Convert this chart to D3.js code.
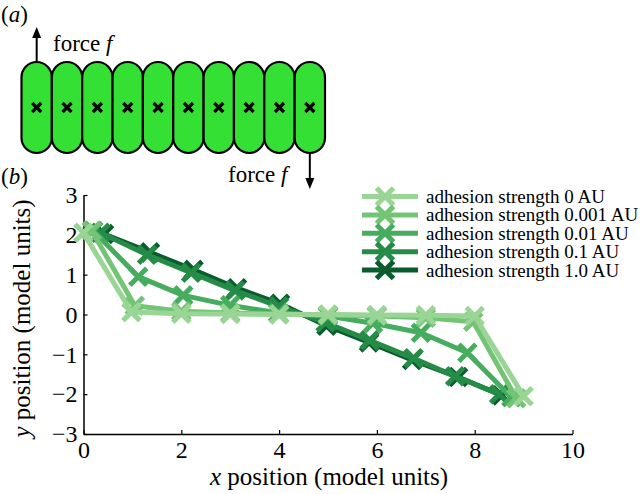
<!DOCTYPE html>
<html>
<head>
<meta charset="utf-8">
<script src="https://cdn.jsdelivr.net/npm/d3@7"></script>
<style>
  html, body { margin: 0; padding: 0; background: #fff; }
  svg { display: block; }
  text { font-family: "Liberation Serif", "Times New Roman", serif; fill: #000; }
</style>
</head>
<body>
<svg id="chart" width="644" height="494"></svg>
<script>
// ---------------- data ----------------
const seriesLabels = [
  "adhesion strength 0 AU",
  "adhesion strength 0.001 AU",
  "adhesion strength 0.01 AU",
  "adhesion strength 0.1 AU",
  "adhesion strength 1.0 AU"
];
const seriesColors = ["#99d594", "#74c476", "#46ad5f", "#248c46", "#0a5c2e"];

const xSeries0 = [0.0, 0.98, 2.0, 3.0, 4.0, 5.0, 6.0, 7.0, 8.0, 9.0];
const ySeries0 = [2.05, 0.06, 0.02, 0.01, 0.0, 0.0, -0.01, -0.02, -0.04, -2.05];
const xSeries1 = [0.17, 1.05, 2.0, 3.0, 4.0, 5.0, 6.0, 7.0, 7.97, 8.85];
const ySeries1 = [2.1, 0.22, 0.08, 0.04, 0.01, -0.01, -0.04, -0.08, -0.18, -2.1];
const xSeries2 = [0.2, 1.12, 2.04, 3.0, 3.98, 5.0, 5.92, 6.9, 7.85, 8.75];
const ySeries2 = [2.1, 0.95, 0.48, 0.23, 0.04, -0.04, -0.22, -0.46, -0.96, -2.08];
const xSeries3 = [0.35, 1.3, 2.2, 3.1, 4.0, 4.95, 5.85, 6.75, 7.6, 8.5];
const ySeries3 = [2.05, 1.5, 1.05, 0.6, 0.2, -0.2, -0.65, -1.1, -1.55, -2.0];
const xSeries4 = [0.42, 1.36, 2.25, 3.14, 4.02, 4.97, 5.84, 6.72, 7.66, 8.55];
const ySeries4 = [2.02, 1.56, 1.12, 0.66, 0.27, -0.28, -0.7, -1.14, -1.57, -2.03];

const xSeriesAll = [xSeries0, xSeries1, xSeries2, xSeries3, xSeries4];
const ySeriesAll = [ySeries0, ySeries1, ySeries2, ySeries3, ySeries4];

const xTicks = [0, 2, 4, 6, 8, 10];
const yTicks = [-3, -2, -1, 0, 1, 2, 3];
const cellCount = 10;

// ---------------- layout ----------------
const svg = d3.select("#chart");
const plot = { left: 83.5, right: 572.5, top: 195, bottom: 434 };
const x = d3.scaleLinear().domain([0, 10]).range([plot.left, plot.right]);
const y = d3.scaleLinear().domain([-3, 3]).range([plot.bottom, plot.top]);

// ---------------- panel (a) ----------------
const cellScale = d3.scaleBand().domain(d3.range(cellCount)).range([21.5, 325]).padding(0);
const cellTop = 62, cellBottom = 153;
const cells = svg.append("g");
cells.selectAll("rect").data(d3.range(cellCount)).join("rect")
  .attr("x", d => cellScale(d))
  .attr("y", cellTop)
  .attr("width", cellScale.bandwidth())
  .attr("height", cellBottom - cellTop)
  .attr("rx", cellScale.bandwidth() / 2)
  .attr("ry", cellScale.bandwidth() / 2)
  .attr("fill", "#35e035")
  .attr("stroke", "#000")
  .attr("stroke-width", 2.2);
const cy = (cellTop + cellBottom) / 2;
cells.selectAll("path.cx").data(d3.range(cellCount)).join("path")
  .attr("class", "cx")
  .attr("d", d => {
    const cx = cellScale(d) + cellScale.bandwidth() / 2, s = 4.5;
    return `M${cx - s},${cy - s}L${cx + s},${cy + s}M${cx - s},${cy + s}L${cx + s},${cy - s}`;
  })
  .attr("stroke", "#000").attr("stroke-width", 3.2).attr("fill", "none");

// arrows
function arrow(x0, yFrom, yTo) {
  const dir = yTo < yFrom ? -1 : 1;
  svg.append("line").attr("x1", x0).attr("x2", x0).attr("y1", yFrom).attr("y2", yTo - dir * 8)
    .attr("stroke", "#000").attr("stroke-width", 2);
  svg.append("path")
    .attr("d", `M${x0},${yTo}L${x0 - 4.5},${yTo - dir * 11}L${x0 + 4.5},${yTo - dir * 11}Z`)
    .attr("fill", "#000");
}
const firstCx = cellScale(0) + cellScale.bandwidth() / 2;
const lastCx = cellScale(cellCount - 1) + cellScale.bandwidth() / 2;
arrow(firstCx, cellTop, 27);
arrow(lastCx, cellBottom, 189);

function forceLabel(xp, yp) {
  const t = svg.append("text").attr("x", xp).attr("y", yp).attr("font-size", 23);
  t.append("tspan").text("force ");
  t.append("tspan").attr("font-style", "italic").text("f");
}
forceLabel(53, 51);
forceLabel(228, 182);

function panelLabel(xp, yp, letter) {
  const t = svg.append("text").attr("x", xp).attr("y", yp).attr("font-size", 23);
  t.append("tspan").text("(");
  t.append("tspan").attr("font-style", "italic").text(letter);
  t.append("tspan").text(")");
}
panelLabel(1, 22, "a");
panelLabel(1, 184, "b");

// ---------------- panel (b) axes ----------------
const xAxis = d3.axisBottom(x).tickValues(xTicks).tickFormat(d3.format("d"))
  .tickSizeInner(-4).tickSizeOuter(0).tickPadding(7);
const yAxis = d3.axisLeft(y).tickValues(yTicks).tickFormat(d3.format("d"))
  .tickSizeInner(-4).tickSizeOuter(0).tickPadding(6);

const gx = svg.append("g").attr("transform", `translate(0,${plot.bottom})`).call(xAxis);
const gy = svg.append("g").attr("transform", `translate(${plot.left},0)`).call(yAxis);
[gx, gy].forEach(g => {
  g.selectAll("path.domain").attr("stroke", "#000").attr("stroke-width", 1.5);
  g.selectAll(".tick line").attr("stroke", "#000").attr("stroke-width", 1.2);
  g.selectAll(".tick text").attr("font-family", "Liberation Serif, Times New Roman, serif")
    .attr("font-size", 24).attr("fill", "#000");
});

// axis titles
const xt = svg.append("text").attr("x", (plot.left + plot.right) / 2 + 1).attr("y", 485)
  .attr("text-anchor", "middle").attr("font-size", 25);
xt.append("tspan").attr("font-style", "italic").text("x");
xt.append("tspan").text(" position (model units)");

const yt = svg.append("text").attr("transform", `translate(30,${(plot.top + plot.bottom) / 2 + 4}) rotate(-90)`)
  .attr("text-anchor", "middle").attr("font-size", 25);
yt.append("tspan").attr("font-style", "italic").text("y");
yt.append("tspan").text(" position (model units)");

// ---------------- series ----------------
const markerSize = 8.5;
function crossPath(cx, cyy, s) {
  return `M${cx - s},${cyy - s}L${cx + s},${cyy + s}M${cx - s},${cyy + s}L${cx + s},${cyy - s}`;
}
const line = d3.line().x(d => x(d[0])).y(d => y(d[1]));
const order = [4, 3, 2, 1, 0];
order.forEach(i => {
  const pts = xSeriesAll[i].map((xv, k) => [xv, ySeriesAll[i][k]]);
  const g = svg.append("g");
  g.append("path").datum(pts).attr("d", line)
    .attr("fill", "none").attr("stroke", seriesColors[i]).attr("stroke-width", 5)
    .attr("stroke-linejoin", "round");
  g.selectAll("path.m").data(pts).join("path").attr("class", "m")
    .attr("d", d => crossPath(x(d[0]), y(d[1]), markerSize))
    .attr("stroke", seriesColors[i]).attr("stroke-width", 5).attr("fill", "none");
});

// ---------------- legend ----------------
const legend = svg.append("g");
const legY = d3.scalePoint().domain(d3.range(seriesLabels.length)).range([196.5, 270]);
seriesLabels.forEach((lab, i) => {
  const yy = legY(i);
  legend.append("line").attr("x1", 362).attr("x2", 418).attr("y1", yy).attr("y2", yy)
    .attr("stroke", seriesColors[i]).attr("stroke-width", 5);
  legend.append("path").attr("d", crossPath(385, yy, markerSize))
    .attr("stroke", seriesColors[i]).attr("stroke-width", 5).attr("fill", "none");
  legend.append("text").attr("x", 426).attr("y", yy + 6.5).attr("font-size", 19).text(lab);
});
</script>
</body>
</html>
